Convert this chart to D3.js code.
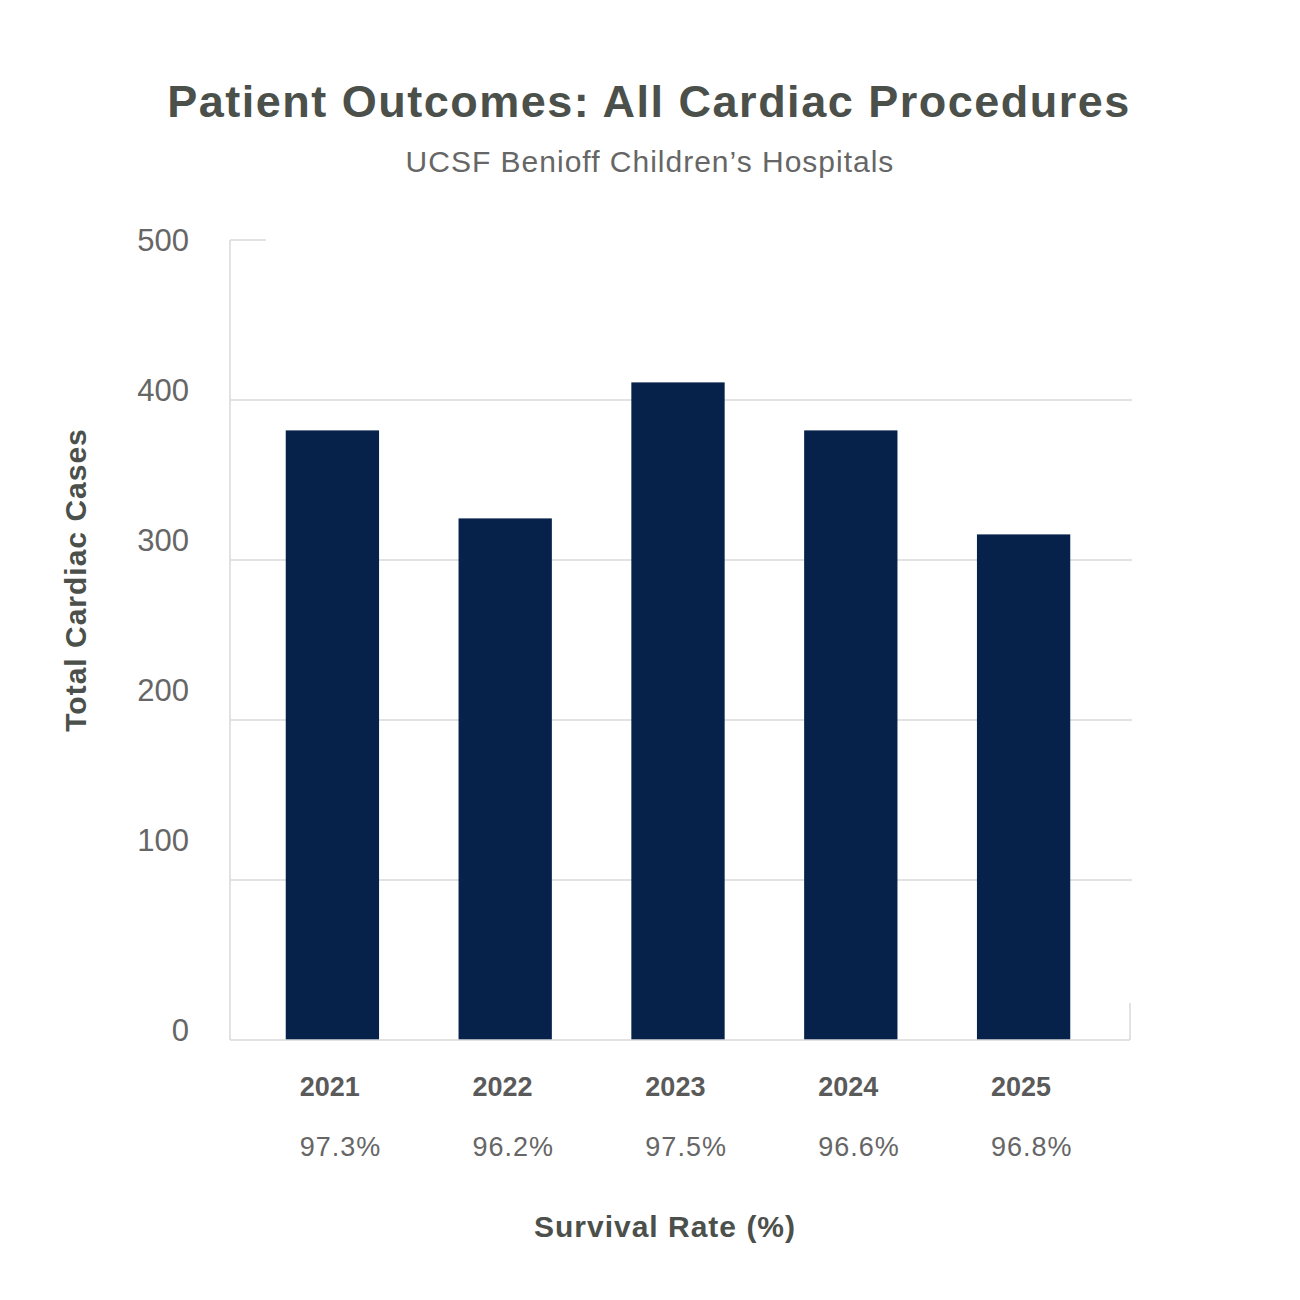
<!DOCTYPE html>
<html>
<head>
<meta charset="utf-8">
<script src="https://cdn.jsdelivr.net/npm/d3@7"></script>
<style>
  html, body { margin: 0; padding: 0; background: #fff; }
  svg { display: block; font-family: "Liberation Sans", Arial, Helvetica, sans-serif; }
</style>
</head>
<body>
<svg id="chart" width="1300" height="1300"></svg>
<script>
// ---- data ----
const years = ["2021", "2022", "2023", "2024", "2025"];
const cases = [381, 326, 411, 381, 316];
const survivalRates = ["97.3%", "96.2%", "97.5%", "96.6%", "96.8%"];
const yTicks = [0, 100, 200, 300, 400, 500];

const titleText = "Patient Outcomes: All Cardiac Procedures";
const subtitleText = "UCSF Benioff Children\u2019s Hospitals";
const yAxisTitle = "Total Cardiac Cases";
const xAxisTitle = "Survival Rate (%)";

// ---- layout ----
const svg = d3.select("#chart");
const plotLeft = 230, plotRight = 1130, plotTop = 240, plotBottom = 1040;
const gridColor = "#d9d9d9";
const barColor = "#06214a";

const y = d3.scaleLinear().domain([0, 500]).range([plotBottom, plotTop]);
const yLabel = d3.scaleLinear().domain([0, 500]).range([990, 240]);
const x = d3.scaleBand().domain(years).range([246, 1110]).paddingInner(0.46).paddingOuter(0.23);

// Title & subtitle
svg.append("text")
  .attr("x", 649).attr("y", 117)
  .attr("text-anchor", "middle")
  .attr("font-size", 45).attr("font-weight", "bold")
  .attr("letter-spacing", 1.5)
  .attr("fill", "#4b504b")
  .text(titleText);

svg.append("text")
  .attr("x", 650).attr("y", 172)
  .attr("text-anchor", "middle")
  .attr("font-size", 30)
  .attr("letter-spacing", 1)
  .attr("fill", "#666666")
  .text(subtitleText);

// Gridlines (full width for 100-400, short stub for 500)
const grid = svg.append("g");
grid.selectAll("line.grid")
  .data(yTicks.filter(t => t > 0))
  .join("line")
  .attr("class", "grid")
  .attr("x1", plotLeft)
  .attr("x2", d => d === 500 ? plotLeft + 36 : plotRight + 2)
  .attr("y1", d => y(d)).attr("y2", d => y(d))
  .attr("stroke", gridColor).attr("stroke-width", 1.5);

// Left axis line
svg.append("line")
  .attr("x1", plotLeft).attr("x2", plotLeft)
  .attr("y1", y(500)).attr("y2", y(0))
  .attr("stroke", gridColor).attr("stroke-width", 1.5);

// Bars
svg.append("g").selectAll("rect")
  .data(years.map((yr, i) => ({ yr, v: cases[i] })))
  .join("rect")
  .attr("x", d => x(d.yr))
  .attr("width", x.bandwidth())
  .attr("y", d => y(d.v))
  .attr("height", d => y(0) - y(d.v))
  .attr("fill", barColor);

// Bottom axis line and right stub
svg.append("line")
  .attr("x1", plotLeft).attr("x2", plotRight)
  .attr("y1", y(0)).attr("y2", y(0))
  .attr("stroke", gridColor).attr("stroke-width", 1.5);
svg.append("line")
  .attr("x1", plotRight).attr("x2", plotRight)
  .attr("y1", y(0) - 37).attr("y2", y(0))
  .attr("stroke", gridColor).attr("stroke-width", 1.5);

// Y tick labels
svg.append("g").selectAll("text")
  .data(yTicks)
  .join("text")
  .attr("x", 189)
  .attr("y", d => (d === 0 ? y(0) - 10 : yLabel(d)))
  .attr("dy", "0.36em")
  .attr("text-anchor", "end")
  .attr("font-size", 31)
  .attr("fill", "#666666")
  .text(d => d);

// Year labels and survival rates
svg.append("g").selectAll("text")
  .data(years)
  .join("text")
  .attr("x", d => x(d) + 14)
  .attr("y", 1096)
  .attr("font-size", 27).attr("font-weight", "bold")
  .attr("fill", "#5a5a5a")
  .text(d => d);

svg.append("g").selectAll("text")
  .data(years.map((yr, i) => ({ yr, s: survivalRates[i] })))
  .join("text")
  .attr("x", d => x(d.yr) + 14)
  .attr("y", 1156)
  .attr("font-size", 27)
  .attr("letter-spacing", 1)
  .attr("fill", "#666666")
  .text(d => d.s);

// Axis titles
svg.append("text")
  .attr("x", 665).attr("y", 1237)
  .attr("text-anchor", "middle")
  .attr("font-size", 30).attr("font-weight", "bold")
  .attr("letter-spacing", 1)
  .attr("fill", "#4b504b")
  .text(xAxisTitle);

svg.append("text")
  .attr("transform", "translate(86,580) rotate(-90)")
  .attr("text-anchor", "middle")
  .attr("font-size", 30).attr("font-weight", "bold")
  .attr("letter-spacing", 1)
  .attr("fill", "#4b504b")
  .text(yAxisTitle);
</script>
</body>
</html>
